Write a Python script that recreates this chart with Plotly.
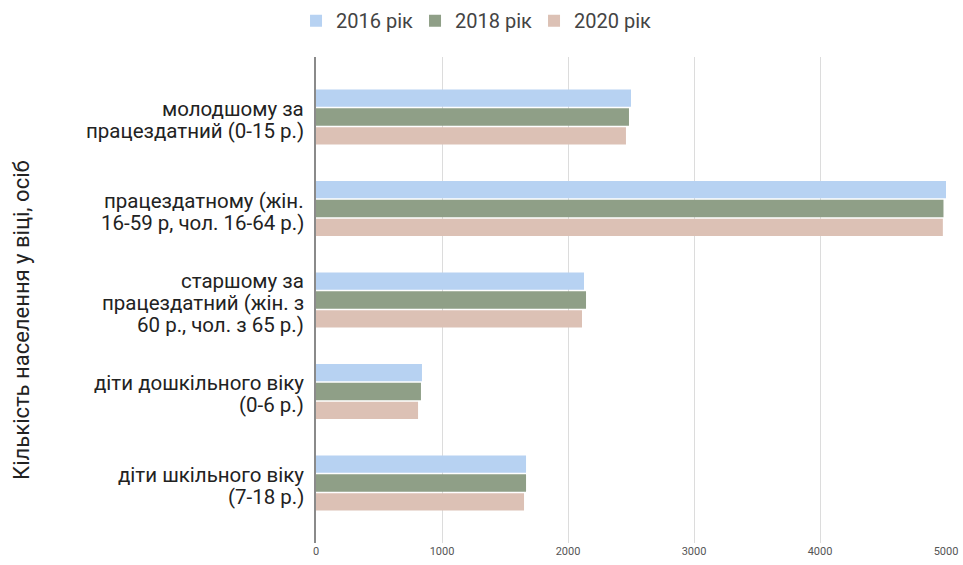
import plotly.graph_objects as go

categories = [
    "молодшому за<br>працездатний (0-15 р.)",
    "працездатному (жін.<br>16-59 р, чол. 16-64 р.)",
    "старшому за<br>працездатний (жін. з<br>60 р., чол. з 65 р.)",
    "діти дошкільного віку<br>(0-6 р.)",
    "діти шкільного віку<br>(7-18 р.)",
]
series_names = ["2016 рік", "2018 рік", "2020 рік"]
values_2016 = [2500, 5000, 2127, 841, 1667]
values_2018 = [2484, 4980, 2143, 833, 1667]
values_2020 = [2460, 4975, 2111, 810, 1651]
colors = ["#b7d2f2", "#8f9f87", "#dcc1b5"]
xticks = [0, 1000, 2000, 3000, 4000, 5000]
y_title = "Кількість населення у віці, осіб"

fig = go.Figure()
for name, vals, col in zip(series_names, [values_2016, values_2018, values_2020], colors):
    fig.add_trace(go.Bar(
        y=categories, x=vals, name=name, orientation="h",
        marker=dict(color=col, line=dict(width=0)),
    ))

# category labels as separate lines (tight line spacing like the reference)
line_h = 22
annotations = []
for cat in categories:
    lines = cat.split("<br>")
    n = len(lines)
    for i, ln in enumerate(lines):
        annotations.append(dict(
            x=0, xref="paper", y=cat, yref="y", text=ln, showarrow=False,
            xanchor="right", yanchor="middle", xshift=-11,
            yshift=-((i - (n - 1) / 2) * line_h) - 3,
            font=dict(size=20.5, color="#222"), borderpad=0,
        ))
annotations.append(dict(
    x=-0.4667, xref="paper", y=0.459, yref="paper", text=y_title, showarrow=False,
    textangle=-90, xanchor="center", yanchor="middle",
    font=dict(size=22, color="#222"),
))

fig.update_layout(
    width=963, height=565,
    margin=dict(l=316, r=17, t=57, b=22, autoexpand=False),
    paper_bgcolor="white", plot_bgcolor="white",
    barmode="group", bargap=0.38, bargroupgap=0.08,
    font=dict(family="Roboto, Noto Sans, sans-serif", color="#222"),
    showlegend=True,
    legend=dict(
        orientation="h", x=0.3074, xref="container", xanchor="left", y=0.998, yref="container",
        yanchor="top", font=dict(size=20, color="#444"), traceorder="normal",
        itemwidth=30, entrywidthmode="pixels", entrywidth=74,
    ),
    xaxis=dict(
        range=[0, 5000], tickvals=xticks, ticktext=[str(v) for v in xticks],
        showgrid=True, gridcolor="#dcdcdc", gridwidth=1, zeroline=False,
        tickfont=dict(size=11, color="#555"), showline=False, ticks="",
        ticklabeloverflow="allow", automargin=False,
    ),
    yaxis=dict(
        autorange=False, range=[4.656, -0.656], showgrid=False,
        showline=True, linecolor="#8a8a8a", linewidth=2,
        showticklabels=False, ticks="", automargin=False,
    ),
    annotations=annotations,
)
fig.write_html("out.html", config={"displayModeBar": False},
               post_script="document.body.style.margin='0';")
